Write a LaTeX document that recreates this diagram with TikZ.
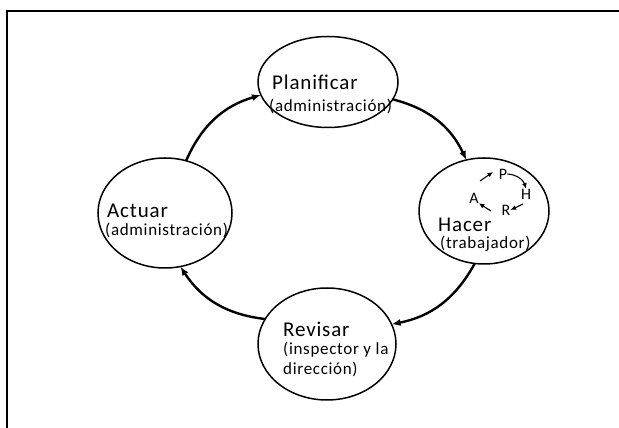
\documentclass[tikz,border=0pt]{standalone}
\usepackage{fontspec}
\setmainfont{Carlito}
\newfontfamily\labfont[LetterSpace=4]{Carlito}
\usepackage{tikz}
\usetikzlibrary{arrows.meta,shapes.geometric,calc}
\definecolor{ink}{HTML}{000000}
\tikzset{
  oval/.style={draw=ink, ellipse, line width=1.5pt, inner sep=0pt, outer sep=0pt},
  cyc/.style={-{Latex[length=9pt, width=7pt]}, line width=2.4pt, draw=ink},
  mini/.style={-{Latex[length=5.5pt, width=5pt]}, line width=1.1pt, draw=ink},
  big/.style={font=\labfont\fontsize{21}{22}\selectfont, anchor=base west, inner sep=0pt},
  sub/.style={font=\labfont\fontsize{17}{18}\selectfont, anchor=base west, inner sep=0pt},
  tag/.style={font=\labfont\fontsize{16}{16}\selectfont, inner sep=0pt},
}
\begin{document}
\begin{tikzpicture}[x=1pt, y=1pt]
  \useasboundingbox (0,0) rectangle (619,428);
  % marco
  \draw[line width=2pt] (625,417) -- (7,417) -- (7,-5);
  % las cuatro fases
  \node[oval, minimum width=140pt, minimum height=91pt] (plan) at (328,346) {};
  \node[oval, minimum width=130pt, minimum height=106pt] (hacer) at (484,217) {};
  \node[oval, minimum width=138pt, minimum height=112pt] (revisar) at (327,84) {};
  \node[oval, minimum width=134pt, minimum height=110pt] (actuar) at (165,215) {};
  % textos
  \node[big] (tplan) at (272,338) {Planificar};
  \node[sub] (splan) at (269,316) {(administración)};
  \node[big] (thacer) at (438,196) {Hacer};
  \node[sub] (shacer) at (440,179) {(trabajador)};
  \node[big] (trev) at (283,91) {Revisar};
  \node[sub] (srev) at (283,73) {(inspector y la};
  \node[sub] (srev2) at (283,53) {dirección)};
  \node[big] (tact) at (107,210) {Actuar};
  \node[sub] (sact) at (105,192) {(administración)};
  % ciclo
  \draw[cyc] (actuar.68) to[bend left=25] (plan.191);
  \draw[cyc] (plan.345) to[bend left=25] (hacer.109);
  \draw[cyc] (hacer.260) to[bend left=25] (revisar.17);
  \draw[cyc] (revisar.158) to[bend left=25] (actuar.286);
  % mini ciclo dentro de Hacer
  \node[tag] (p) at (503,254) {P};
  \node[tag] (h) at (526,234) {H};
  \node[tag] (r) at (506,218) {R};
  \node[tag] (a) at (474,230) {A};
  \coordinate (ap) at (480,247);
  \coordinate (ap2) at (493,256);
  \coordinate (hr) at (523,224);
  \coordinate (ra) at (491,217);
  \draw[mini] (ap) -- (ap2);
  \draw[mini] (p.east) to[bend left=35] (h.north);
  \draw[mini] (hr) -- (r.east);
  \draw[mini] (ra) -- (a.south east);
\end{tikzpicture}
\end{document}
